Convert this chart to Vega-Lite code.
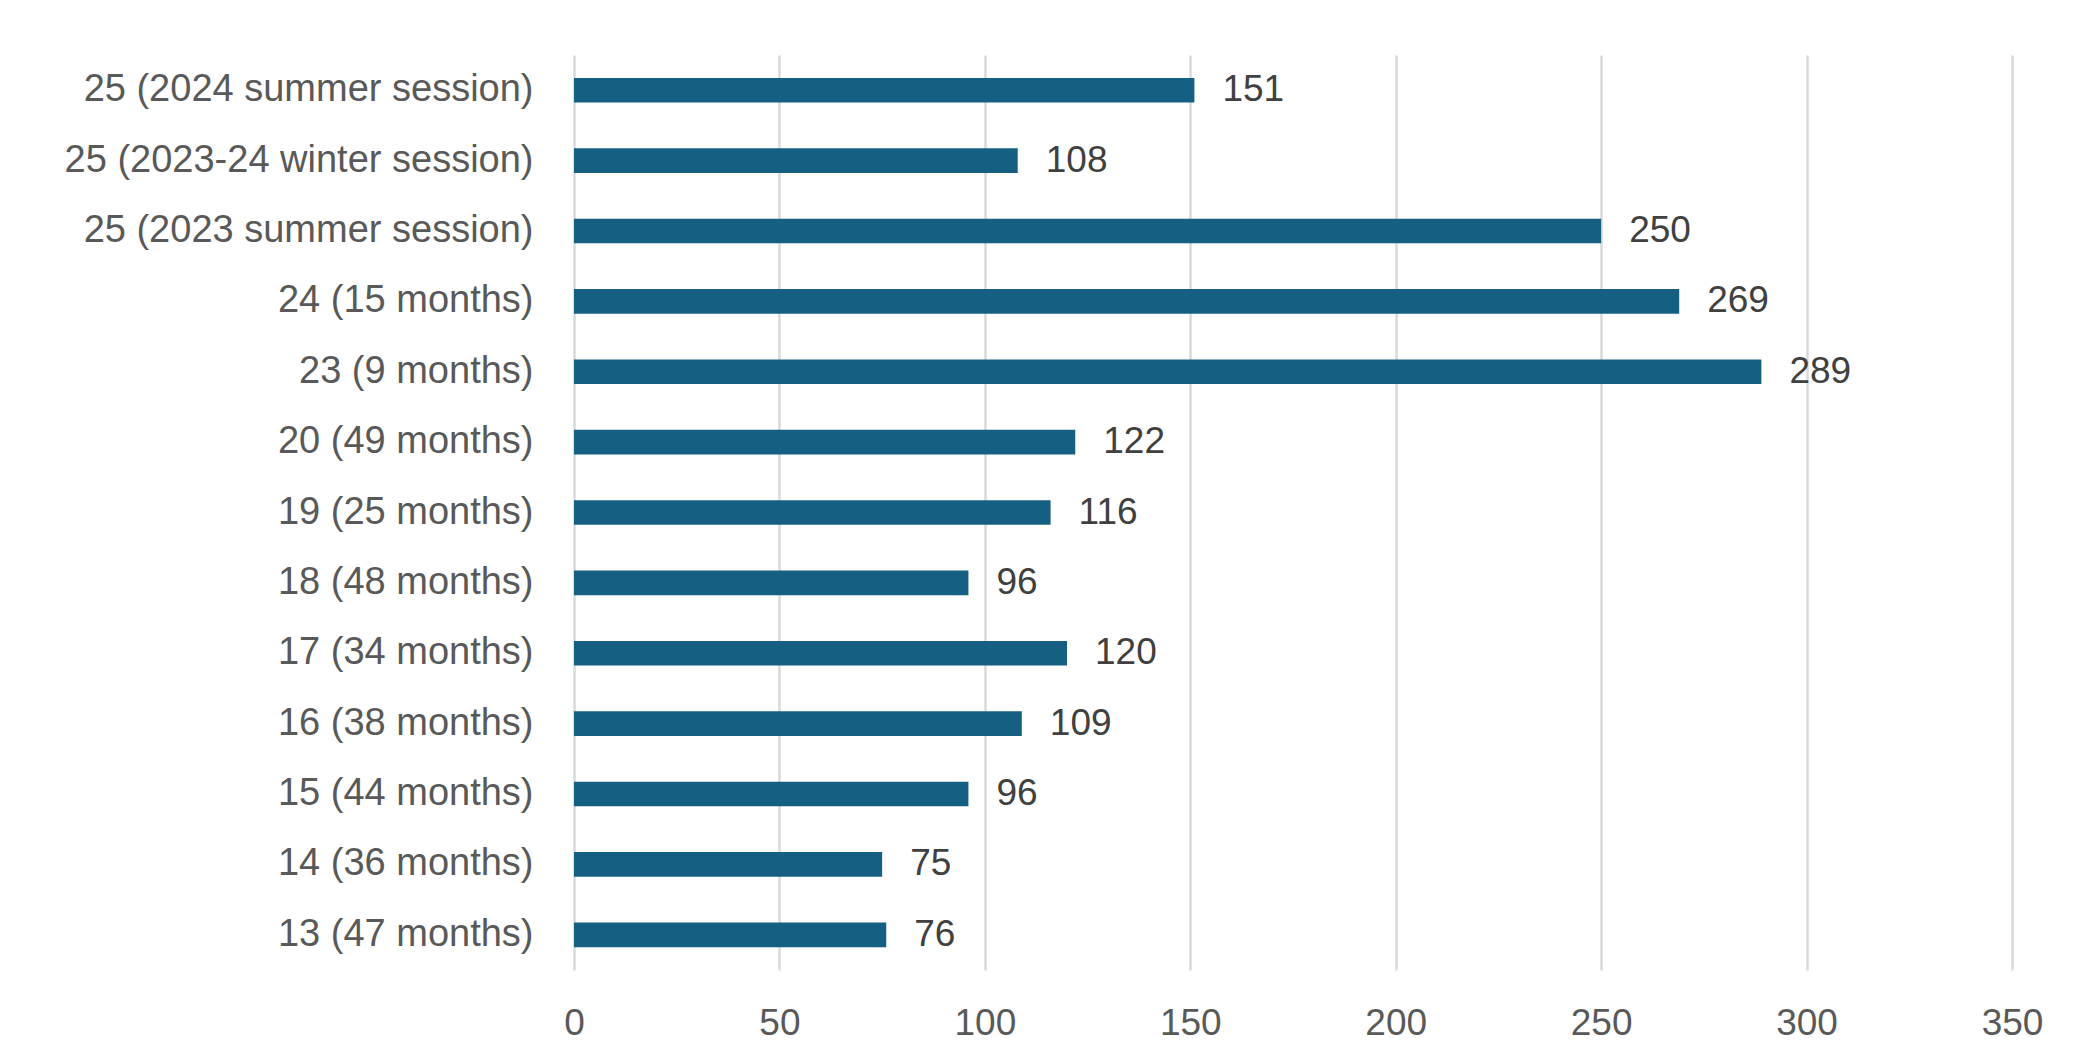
{
  "$schema": "https://vega.github.io/schema/vega-lite/v6.json",
  "autosize": {"type": "none"},
  "width": 1438,
  "height": 915,
  "padding": {"left": 574, "top": 55, "right": 62, "bottom": 94},
  "background": "white",
  "config": {
    "view": {"stroke": null},
    "font": "Liberation Sans"
  },
  "data": {
    "values": [
      {"meeting": "25 (2024 summer session)", "count": 151},
      {"meeting": "25 (2023-24 winter session)", "count": 108},
      {"meeting": "25 (2023 summer session)", "count": 250},
      {"meeting": "24 (15 months)", "count": 269},
      {"meeting": "23 (9 months)", "count": 289},
      {"meeting": "20 (49 months)", "count": 122},
      {"meeting": "19 (25 months)", "count": 116},
      {"meeting": "18 (48 months)", "count": 96},
      {"meeting": "17 (34 months)", "count": 120},
      {"meeting": "16 (38 months)", "count": 109},
      {"meeting": "15 (44 months)", "count": 96},
      {"meeting": "14 (36 months)", "count": 75},
      {"meeting": "13 (47 months)", "count": 76}
    ]
  },
  "encoding": {
    "y": {
      "field": "meeting",
      "type": "nominal",
      "sort": null,
      "scale": {"paddingInner": 0.65, "paddingOuter": 0.325},
      "axis": {
        "title": null,
        "domain": false,
        "ticks": false,
        "tickSize": 0,
        "grid": false,
        "labelPadding": 41,
        "labelFontSize": 38,
        "labelColor": "#595959",
        "labelFont": "Liberation Sans",
        "labelLimit": 600
      }
    },
    "x": {
      "field": "count",
      "type": "quantitative",
      "scale": {"domain": [0, 350], "nice": false},
      "axis": {
        "title": null,
        "values": [0, 50, 100, 150, 200, 250, 300, 350],
        "domain": false,
        "ticks": false,
        "tickSize": 0,
        "grid": true,
        "gridColor": "#d9d9d9",
        "gridWidth": 2.5,
        "labelPadding": 53,
        "labelBaseline": "middle",
        "labelFontSize": 37,
        "labelColor": "#595959",
        "labelFont": "Liberation Sans",
        "labelFlush": false
      }
    }
  },
  "layer": [
    {"mark": {"type": "bar", "color": "#156082"}},
    {
      "mark": {
        "type": "text",
        "align": "left",
        "baseline": "middle",
        "dx": 28,
        "fontSize": 37,
        "color": "#404040",
        "font": "Liberation Sans"
      },
      "encoding": {"text": {"field": "count", "type": "quantitative"}}
    }
  ]
}
